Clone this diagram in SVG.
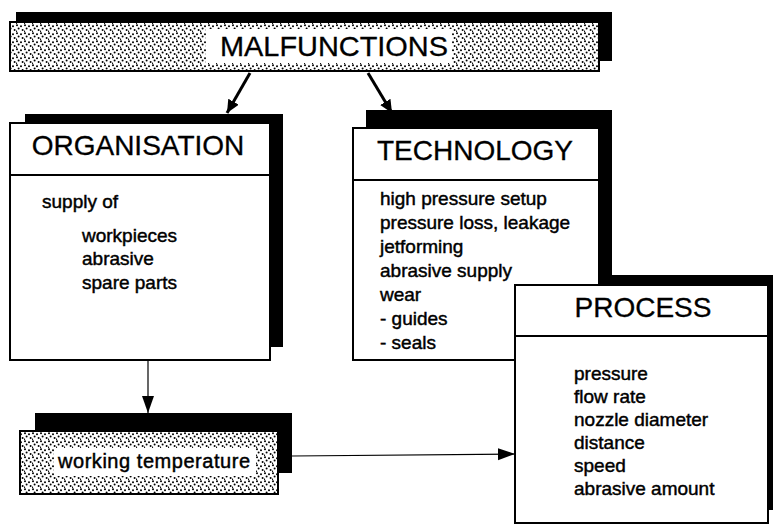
<svg xmlns="http://www.w3.org/2000/svg" width="773" height="526" viewBox="0 0 773 526">
<defs>
<pattern id="dots" width="8" height="8" patternUnits="userSpaceOnUse">
<rect width="8" height="8" fill="#fff"/>
<circle cx="1" cy="1.2" r="1" fill="#000"/>
<circle cx="5" cy="2.2" r="1" fill="#000"/>
<circle cx="2.6" cy="4.6" r="1" fill="#000"/>
<circle cx="6.6" cy="6" r="1" fill="#000"/>
<circle cx="0.4" cy="7.2" r="0.8" fill="#000"/>
</pattern>
<marker id="bigHead" markerUnits="userSpaceOnUse" markerWidth="14" markerHeight="14" refX="13" refY="6" orient="auto">
<path d="M0,0 L13,6 L0,12 Z" fill="#000"/>
</marker>
<marker id="thinHead" markerUnits="userSpaceOnUse" markerWidth="18" markerHeight="14" refX="17" refY="6" orient="auto">
<path d="M0,0 L17,6 L0,12 Z" fill="#000"/>
</marker>
</defs>
<style>
.shadow{fill:#000}
.box{fill:#fff;stroke:#000;stroke-width:2}
.stip{fill:url(#dots);stroke:#000;stroke-width:2}
.div{stroke:#000;stroke-width:2}
.title{font-family:"Liberation Sans",Arial,sans-serif;font-size:28px;fill:#000;stroke:#000;stroke-width:0.3}
.body{font-family:"Liberation Sans",Arial,sans-serif;font-size:19px;fill:#000;stroke:#000;stroke-width:0.45}
.thick{stroke:#000;stroke-width:3;fill:none}
.thin{stroke:#000;stroke-width:1.2;fill:none}
</style>
<rect width="773" height="526" fill="#fff"/>

<g id="malfunctions">
<rect class="shadow" x="16" y="12" width="596" height="49"/>
<rect class="stip" x="10" y="22" width="589" height="49"/>
<rect x="206" y="29" width="246" height="34" fill="#fff"/>
<text class="title" x="334" y="56" text-anchor="middle" textLength="228" lengthAdjust="spacingAndGlyphs">MALFUNCTIONS</text>
</g>

<g id="organisation">
<rect class="shadow" x="25" y="114" width="258" height="233"/>
<rect class="box" x="10" y="123" width="260" height="237"/>
<line class="div" x1="10" y1="175" x2="270" y2="175"/>
<text class="title" x="138" y="155" text-anchor="middle">ORGANISATION</text>
<text class="body" x="42" y="208">supply of</text>
<text class="body" x="82" y="242">workpieces</text>
<text class="body" x="82" y="265">abrasive</text>
<text class="body" x="82" y="289">spare parts</text>
</g>

<g id="technology">
<rect class="shadow" x="366" y="110" width="246" height="240"/>
<rect class="shadow" x="530" y="275" width="243" height="235"/>
<rect class="box" x="353" y="128" width="246" height="232"/>
<line class="div" x1="353" y1="180" x2="599" y2="180"/>
<text class="title" x="475" y="160" text-anchor="middle">TECHNOLOGY</text>
<text class="body" x="380" y="205">high pressure setup</text>
<text class="body" x="380" y="229">pressure loss, leakage</text>
<text class="body" x="380" y="253">jetforming</text>
<text class="body" x="380" y="277">abrasive supply</text>
<text class="body" x="380" y="301">wear</text>
<text class="body" x="380" y="325">- guides</text>
<text class="body" x="380" y="349">- seals</text>
</g>

<g id="process">
<rect class="box" x="515" y="285" width="253" height="238"/>
<line class="div" x1="515" y1="336" x2="768" y2="336"/>
<text class="title" x="643" y="317" text-anchor="middle">PROCESS</text>
<text class="body" x="574" y="380">pressure</text>
<text class="body" x="574" y="403">flow rate</text>
<text class="body" x="574" y="426">nozzle diameter</text>
<text class="body" x="574" y="449">distance</text>
<text class="body" x="574" y="472">speed</text>
<text class="body" x="574" y="495">abrasive amount</text>
</g>

<g id="working-temperature">
<rect class="shadow" x="35" y="413" width="257" height="60"/>
<rect class="stip" x="20" y="431" width="258" height="63"/>
<rect x="54" y="448" width="202" height="28" fill="#fff"/>
<text class="body" x="58" y="468" textLength="192" lengthAdjust="spacing" style="font-size:20px">working  temperature</text>
</g>

<g id="connectors">
<line class="thick" x1="250" y1="73" x2="227" y2="113" marker-end="url(#bigHead)"/>
<line class="thick" x1="368" y1="73" x2="392" y2="113" marker-end="url(#bigHead)"/>
<line class="thin" x1="148" y1="361" x2="148" y2="413" marker-end="url(#thinHead)"/>
<line class="thin" x1="292" y1="456" x2="515" y2="454" marker-end="url(#thinHead)"/>
</g>
</svg>
